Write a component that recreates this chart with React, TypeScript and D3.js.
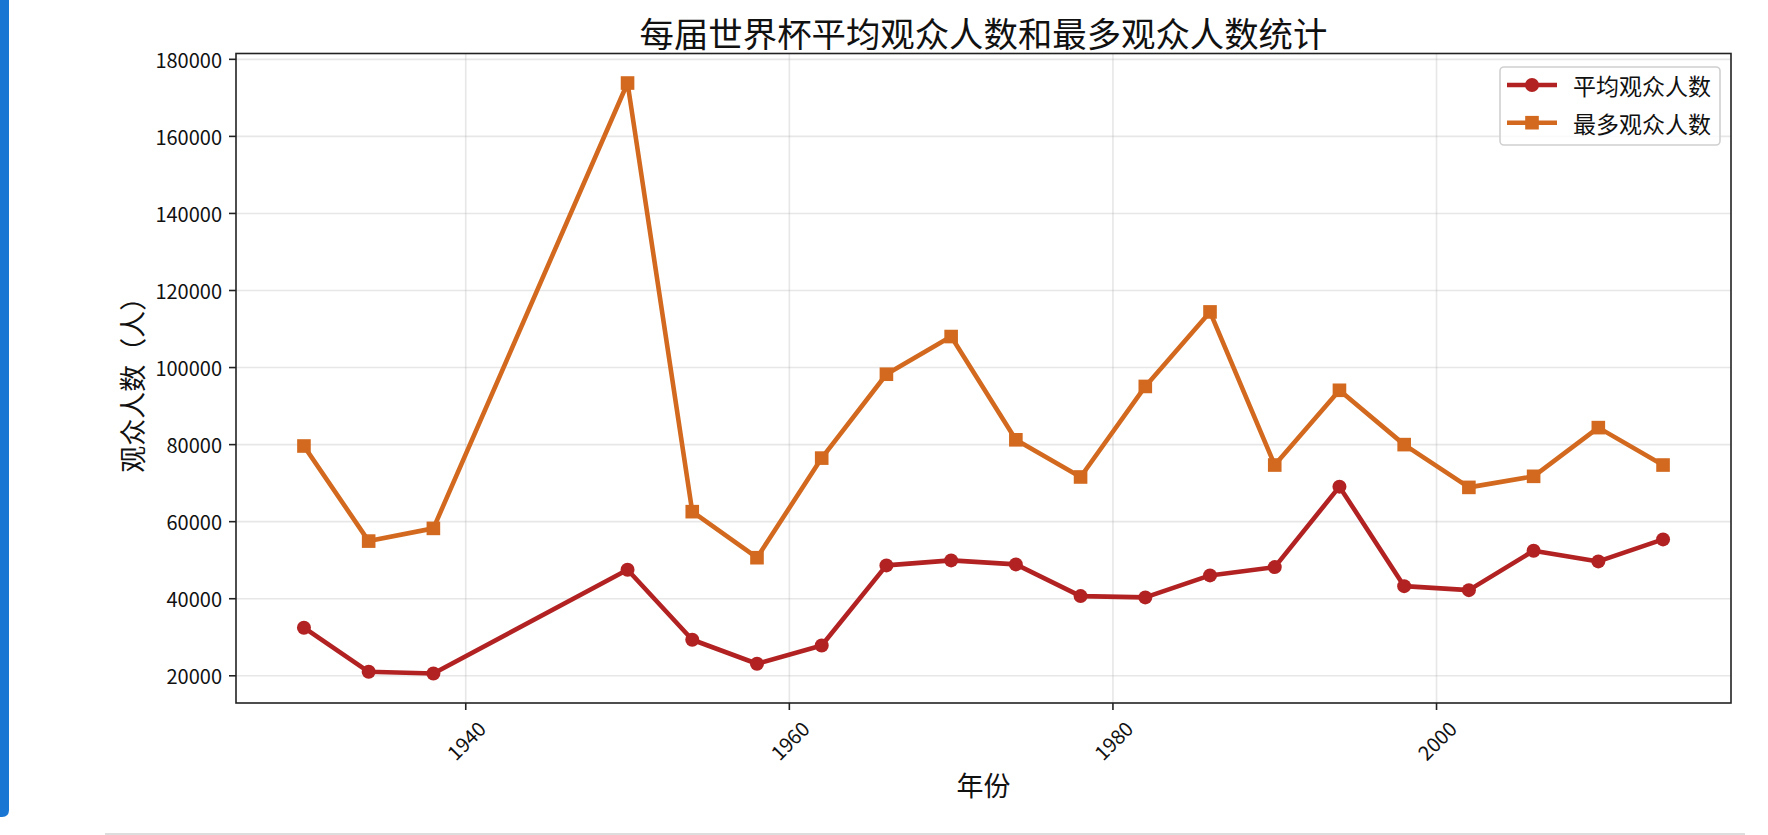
import * as React from 'react'
import * as d3 from 'd3'

const years = [1930, 1934, 1938, 1950, 1954, 1958, 1962, 1966, 1970, 1974, 1978, 1982, 1986, 1990, 1994, 1998, 2002, 2006, 2010, 2014];
const avgAttendance = [32470, 21040, 20600, 47530, 29350, 23120, 27870, 48650, 49950, 48910, 40680, 40340, 46050, 48210, 69090, 43270, 42230, 52470, 49690, 55400];
const maxAttendance = [79640, 54960, 58260, 173850, 62600, 50650, 76500, 98270, 108050, 81250, 71600, 95100, 114440, 74700, 94100, 80000, 68900, 71770, 84410, 74700];
const xTicks = [1940, 1960, 1980, 2000];
const yTicks = [20000, 40000, 60000, 80000, 100000, 120000, 140000, 160000, 180000];
const seriesNames = ['平均观众人数', '最多观众人数'];
const title = '每届世界杯平均观众人数和最多观众人数统计';
const xLabel = '年份';
const yLabel = '观众人数（人）';

const W = 1768;
const H = 835;
const FONT = '"Noto Sans CJK SC", "Noto Sans", sans-serif';
const RED = '#b22222';
const ORANGE = '#d2691e';

const App: React.FC = () => {
  const ref = React.useRef<SVGSVGElement>(null);

  React.useEffect(() => {
    const svg = d3.select(ref.current);
    svg.selectAll('*').remove();

    const left = 236, right = 1731, top = 53.5, bottom = 703;

    // matplotlib-style 5% margins
    const xMin = d3.min(years)!, xMax = d3.max(years)!;
    const xPad = (xMax - xMin) * 0.05;
    const allY = avgAttendance.concat(maxAttendance);
    const yMin = d3.min(allY)!, yMax = d3.max(allY)!;
    const yPad = (yMax - yMin) * 0.05;

    const x = d3.scaleLinear().domain([xMin - xPad, xMax + xPad]).range([left, right]);
    const y = d3.scaleLinear().domain([yMin - yPad, yMax + yPad]).range([bottom, top]);

    svg.append('rect').attr('width', W).attr('height', H).attr('fill', '#fff');

    // page chrome
    svg.append('path')
      .attr('d', `M0,0 H9 V810 Q9,817 2,817 H0 Z`)
      .attr('fill', '#1976d2');
    svg.append('line')
      .attr('x1', 105).attr('x2', 1745).attr('y1', 834).attr('y2', 834)
      .attr('stroke', '#dddddd').attr('stroke-width', 2);

    // grid
    const grid = svg.append('g');
    grid.selectAll('line.gx').data(xTicks).enter().append('line')
      .attr('x1', d => x(d)).attr('x2', d => x(d))
      .attr('y1', top).attr('y2', bottom)
      .attr('stroke', '#b0b0b0').attr('stroke-opacity', 0.3).attr('stroke-width', 1.6);
    grid.selectAll('line.gy').data(yTicks).enter().append('line')
      .attr('x1', left).attr('x2', right)
      .attr('y1', d => y(d)).attr('y2', d => y(d))
      .attr('stroke', '#b0b0b0').attr('stroke-opacity', 0.3).attr('stroke-width', 1.6);

    const series = [
      { name: seriesNames[0], values: avgAttendance, color: RED, marker: 'circle' },
      { name: seriesNames[1], values: maxAttendance, color: ORANGE, marker: 'square' },
    ];

    const line = d3.line<number>()
      .x((_, i) => x(years[i]))
      .y(d => y(d));

    series.forEach(s => {
      svg.append('path')
        .attr('d', line(s.values))
        .attr('fill', 'none')
        .attr('stroke', s.color)
        .attr('stroke-width', 4.6)
        .attr('stroke-linejoin', 'round')
        .attr('stroke-linecap', 'square');
      if (s.marker === 'circle') {
        svg.selectAll(null).data(s.values).enter().append('circle')
          .attr('cx', (_, i) => x(years[i]))
          .attr('cy', d => y(d))
          .attr('r', 7)
          .attr('fill', s.color);
      } else {
        svg.selectAll(null).data(s.values).enter().append('rect')
          .attr('x', (_, i) => x(years[i]) - 6.8)
          .attr('y', d => y(d) - 6.8)
          .attr('width', 13.6).attr('height', 13.6)
          .attr('fill', s.color);
      }
    });

    // spines
    svg.append('rect')
      .attr('x', left).attr('y', top)
      .attr('width', right - left).attr('height', bottom - top)
      .attr('fill', 'none').attr('stroke', '#222').attr('stroke-width', 1.6);

    // y ticks
    const yt = svg.append('g');
    yt.selectAll('line').data(yTicks).enter().append('line')
      .attr('x1', left - 7).attr('x2', left)
      .attr('y1', d => y(d)).attr('y2', d => y(d))
      .attr('stroke', '#222').attr('stroke-width', 1.6);
    yt.selectAll('text').data(yTicks).enter().append('text')
      .attr('x', left - 14).attr('y', d => y(d))
      .attr('text-anchor', 'end').attr('dominant-baseline', 'central')
      .attr('font-family', FONT).attr('font-size', 20).attr('fill', '#111')
      .text(d => String(d));

    // x ticks
    const xt = svg.append('g');
    xt.selectAll('line').data(xTicks).enter().append('line')
      .attr('x1', d => x(d)).attr('x2', d => x(d))
      .attr('y1', bottom).attr('y2', bottom + 7)
      .attr('stroke', '#222').attr('stroke-width', 1.6);
    xt.selectAll('text').data(xTicks).enter().append('text')
      .attr('transform', d => `translate(${x(d)},${bottom + 37}) rotate(-45)`)
      .attr('text-anchor', 'middle').attr('dominant-baseline', 'central')
      .attr('font-family', FONT).attr('font-size', 20).attr('fill', '#111')
      .text(d => String(d));

    // labels
    svg.append('text')
      .attr('x', (left + right) / 2).attr('y', 47)
      .attr('text-anchor', 'middle')
      .attr('font-family', FONT).attr('font-size', 34.4).attr('fill', '#111')
      .text(title);
    svg.append('text')
      .attr('x', (left + right) / 2).attr('y', 784)
      .attr('text-anchor', 'middle').attr('dominant-baseline', 'central')
      .attr('font-family', FONT).attr('font-size', 27).attr('fill', '#111')
      .text(xLabel);
    svg.append('text')
      .attr('transform', `translate(131,${(top + bottom) / 2}) rotate(-90)`)
      .attr('text-anchor', 'middle').attr('dominant-baseline', 'central')
      .attr('font-family', FONT).attr('font-size', 27).attr('fill', '#111')
      .text(yLabel);

    // legend
    const lg = svg.append('g');
    lg.append('rect')
      .attr('x', 1500).attr('y', 67).attr('width', 220).attr('height', 78)
      .attr('rx', 4).attr('fill', '#fff').attr('fill-opacity', 0.8)
      .attr('stroke', '#d0d0d0').attr('stroke-width', 1.6);
    series.forEach((s, i) => {
      const cy = 85 + i * 37.7;
      lg.append('line')
        .attr('x1', 1507).attr('x2', 1557).attr('y1', cy).attr('y2', cy)
        .attr('stroke', s.color).attr('stroke-width', 4.6);
      if (s.marker === 'circle') {
        lg.append('circle').attr('cx', 1532).attr('cy', cy).attr('r', 7).attr('fill', s.color);
      } else {
        lg.append('rect').attr('x', 1532 - 6.8).attr('y', cy - 6.8)
          .attr('width', 13.6).attr('height', 13.6).attr('fill', s.color);
      }
      lg.append('text')
        .attr('x', 1573).attr('y', cy)
        .attr('dominant-baseline', 'central')
        .attr('font-family', FONT).attr('font-size', 23).attr('fill', '#111')
        .text(s.name);
    });
  }, []);

  return (
    <svg ref={ref} width={W} height={H}
      style={{ position: 'absolute', left: 0, top: 0, display: 'block' }} />
  );
};

export default App;
